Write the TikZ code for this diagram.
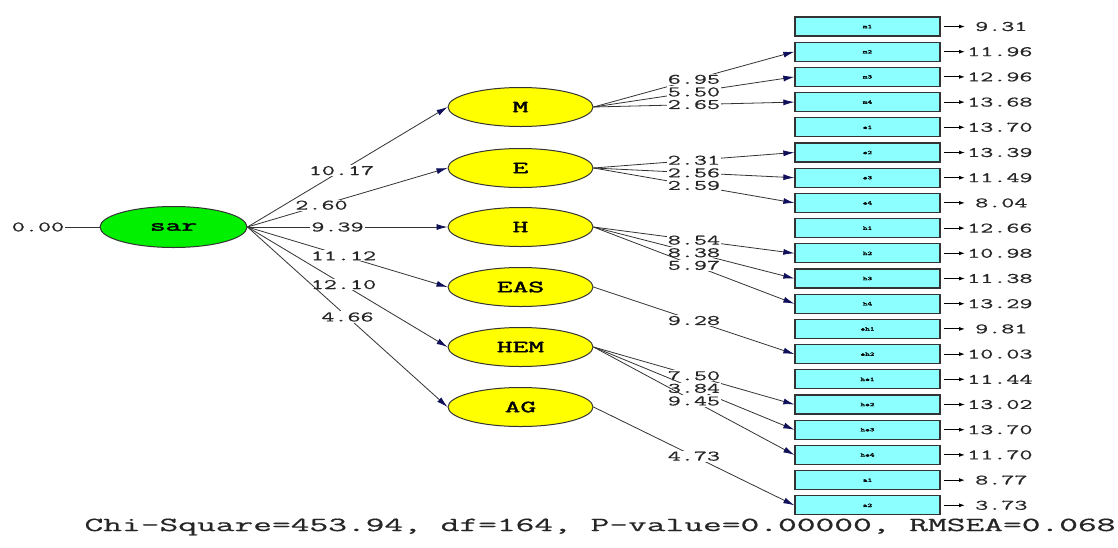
\documentclass[tikz,border=0pt]{standalone}
\usepackage{fontspec}
\usepackage{graphicx}
\newfontfamily\monofont[FakeBold=0.5]{Latin Modern Mono}
\newfontfamily\boldmono[FakeBold=1.6]{Latin Modern Mono}
\usetikzlibrary{arrows.meta,shapes.geometric}
\definecolor{latY}{HTML}{FFFF00}
\definecolor{sarG}{HTML}{00F000}
\definecolor{boxC}{HTML}{8CFFFF}
\definecolor{edgec}{HTML}{333333}
\definecolor{tipc}{HTML}{10105A}
\newcommand{\wtxt}[2]{\scalebox{#1}[1]{#2}}
\tikzset{
 latent/.style={ellipse, draw=edgec, line width=1pt, fill=latY, minimum width=145pt, minimum height=39pt, inner sep=0pt, font=\boldmono\fontsize{17}{17}\selectfont},
 sarstyle/.style={latent, fill=sarG, minimum width=147pt, minimum height=41pt},
 obs/.style={rectangle, draw=edgec, line width=1.3pt, fill=boxC, minimum width=145pt, minimum height=19pt, inner sep=0pt, font=\boldmono\fontsize{5.5}{5.5}\selectfont},
 coef/.style={fill=white, inner sep=1pt, text=black!85, font=\monofont\fontsize{14.5}{14.5}\selectfont},
 vallab/.style={inner sep=0pt, anchor=west, text=black!85, font=\monofont\fontsize{14.5}{14.5}\selectfont},
 loadarrow/.style={draw=edgec, line width=0.8pt, -{Latex[length=11pt,width=6pt,color=tipc]}},
 errpath/.style={draw=black, line width=1pt, -{Latex[length=6pt,width=4pt]}},
 plainline/.style={draw=edgec, line width=0.8pt},
}
\begin{document}
\begin{tikzpicture}[x=1pt,y=-1pt]
\useasboundingbox (0,0) rectangle (1118,547);
\fill[white] (0,0) rectangle (1118,547);
% exogenous latent
\node[sarstyle] (sar) at (173.5,227) {\wtxt{1.8}{sar}};
\node[coef, fill=none] (zero) at (38,227) {\wtxt{1.75}{0.00}};
\draw[plainline] (zero) -- (sar);
% endogenous latents
\foreach \n/\y in {M/107, E/168, H/227, EAS/287, HEM/347, AG/407}
  \node[latent] (\n) at (520.5,\y) {\wtxt{1.8}{\n}};
% observed boxes with error values
\foreach \n/\v/\lx [count=\i from 0] in {m1/9.31/975, m2/11.96/967, m3/12.96/967, m4/13.68/967, e1/13.70/967, e2/13.39/967, e3/11.49/967, e4/8.04/975, h1/12.66/967, h2/10.98/967, h3/11.38/967, h4/13.29/967, eh1/9.81/975, eh2/10.03/967, he1/11.44/967, he2/13.02/967, he3/13.70/967, he4/11.70/967, a1/8.77/975, a2/3.73/975} {
  \node[obs] (\n) at (867.5, 26.5+25.2*\i) {\wtxt{1.6}{\n}};
  \coordinate (err\n) at (965, 26.5+25.2*\i);
  \draw[errpath] ([xshift=3pt]\n.east) -- (err\n);
  \node[vallab] (ev\n) at (\lx, 26.5+25.2*\i) {\wtxt{1.75}{\v}};
}
% structural paths
\draw[loadarrow] (sar.east) -- node[coef,pos=0.47]{\wtxt{1.75}{10.17}} (M.west);
\draw[loadarrow] (sar.east) -- node[coef,pos=0.37]{\wtxt{1.75}{2.60}} (E.west);
\draw[loadarrow] (sar.east) -- node[coef,pos=0.45]{\wtxt{1.75}{9.39}} (H.west);
\draw[loadarrow] (sar.east) -- node[coef,pos=0.48]{\wtxt{1.75}{11.12}} (EAS.west);
\draw[loadarrow] (sar.east) -- node[coef,pos=0.48]{\wtxt{1.75}{12.10}} (HEM.west);
\draw[loadarrow] (sar.east) -- node[coef,pos=0.5]{\wtxt{1.75}{4.66}} (AG.west);
% measurement paths
\draw[loadarrow] (M.east) -- node[coef]{\wtxt{1.75}{6.95}} (m2.west);
\draw[loadarrow] (M.east) -- node[coef]{\wtxt{1.75}{5.50}} (m3.west);
\draw[loadarrow] (M.east) -- node[coef]{\wtxt{1.75}{2.65}} (m4.west);
\draw[loadarrow] (E.east) -- node[coef]{\wtxt{1.75}{2.31}} (e2.west);
\draw[loadarrow] (E.east) -- node[coef]{\wtxt{1.75}{2.56}} (e3.west);
\draw[loadarrow] (E.east) -- node[coef]{\wtxt{1.75}{2.59}} (e4.west);
\draw[loadarrow] (H.east) -- node[coef]{\wtxt{1.75}{8.54}} (h2.west);
\draw[loadarrow] (H.east) -- node[coef]{\wtxt{1.75}{8.38}} (h3.west);
\draw[loadarrow] (H.east) -- node[coef]{\wtxt{1.75}{5.97}} (h4.west);
\draw[loadarrow] (EAS.east) -- node[coef]{\wtxt{1.75}{9.28}} (eh2.west);
\draw[loadarrow] (HEM.east) -- node[coef]{\wtxt{1.75}{7.50}} (he2.west);
\draw[loadarrow] (HEM.east) -- node[coef]{\wtxt{1.75}{3.84}} (he3.west);
\draw[loadarrow] (HEM.east) -- node[coef]{\wtxt{1.75}{9.45}} (he4.west);
\draw[loadarrow] (AG.east) -- node[coef]{\wtxt{1.75}{4.73}} (a2.west);
% fit statistics
\node[text=black!85, font=\monofont\fontsize{20}{20}\selectfont] (fit) at (600,527) {\wtxt{1.82}{Chi-Square=453.94, df=164, P-value=0.00000, RMSEA=0.068}};
\end{tikzpicture}
\end{document}
